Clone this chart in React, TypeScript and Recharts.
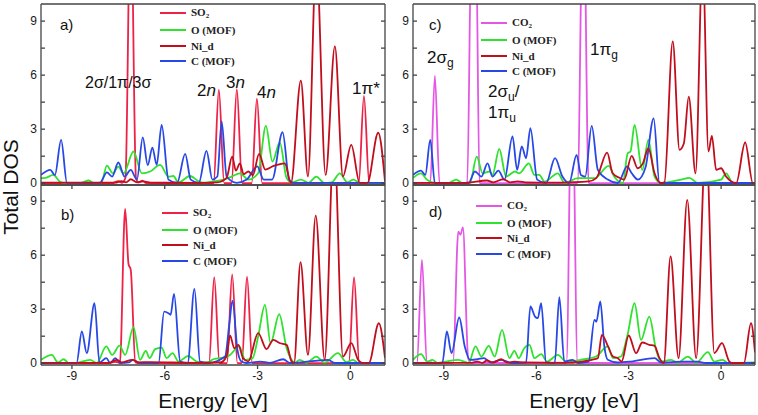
import { Legend, Line, LineChart, XAxis, YAxis } from 'recharts';

type Pt = [number, number];

// [energy eV, DOS], one list per curve and panel
// a) SO2 adsorbed
const so2A: Pt[] = [
  [-10, 0], [-7.7, 0], [-7.5, 0.12], [-7.38, 0.02], [-7.27, 0.3], [-7.1, 16], [-6.93, 0.3], [-6.85, 0.04],
  [-6.72, 0.14], [-6.6, 0], [-4.42, 0], [-4.25, 5.2], [-4.08, 0], [-3.84, 0], [-3.67, 5.22], [-3.5, 0],
  [-3.19, 0], [-3.02, 4.7], [-2.85, 0], [0.27, 0], [0.44, 4.85], [0.61, 0], [1.12, 0],
];
const oA: Pt[] = [
  [-10, 0.28], [-9.85, 0.3], [-9.6, 0.46], [-9.4, 0.1], [-9.27, 0.02], [-8.7, 0.02], [-8.46, 0.15], [-8.3, 0.02],
  [-8.05, 0.03], [-7.87, 0.98], [-7.68, 0.55], [-7.5, 0.92], [-7.33, 0.55], [-7.01, 1.76], [-6.74, 0.55],
  [-6.47, 0.65], [-6.15, 1.02], [-5.88, 0.37], [-5.72, 0.4], [-5.56, 0.04], [-5.18, 0.4], [-4.9, 0.1],
  [-4.75, 0.03], [-4.4, 0.1], [-4.1, 0.2], [-3.84, 0.37], [-3.57, 0.55], [-3.3, 0.2], [-2.98, 0.55],
  [-2.73, 3.18], [-2.52, 1.2], [-2.28, 2.26], [-2.06, 0.28], [-1.9, 0.04], [-1.6, 0.2], [-1.35, 0.02],
  [-1.1, 0.37], [-0.85, 0.02], [-0.6, 0.05], [-0.34, 0.55], [-0.1, 0.05], [0.1, 0.2], [0.3, 0.02], [1.12, 0.02],
];
const niA: Pt[] = [
  [-10, 0.03], [-7.6, 0.03], [-7.4, 0.12], [-7.25, 0.05], [-7.1, 0.22], [-6.9, 0.05], [-6.7, 0.1], [-6.4, 0.03],
  [-5.0, 0.02], [-4.3, 0.05], [-4.0, 0.3], [-3.82, 1.48], [-3.7, 0.7], [-3.57, 1.1], [-3.45, 0.5], [-3.3, 0.65],
  [-3.15, 0.45], [-2.95, 1.63], [-2.75, 0.75], [-2.5, 0.95], [-2.3, 1.05], [-2.12, 1.1], [-1.92, 0.02],
  [-1.6, 5.7], [-1.37, 0.37], [-1.1, 12.5], [-0.8, 0.46], [-0.5, 7.6], [-0.24, 0.37], [0.03, 2.13],
  [0.3, 0.02], [0.55, 0.02], [0.9, 2.8], [1.12, 0.1],
];
const cA: Pt[] = [
  [-10, 0.46], [-9.7, 0.74], [-9.55, 0.45], [-9.35, 2.41], [-9.16, 0.02], [-8.1, 0.02], [-7.87, 0.6],
  [-7.7, 0.37], [-7.5, 1.15], [-7.3, 0.37], [-7.1, 0.74], [-6.9, 0.2], [-6.71, 2.54], [-6.55, 1.0],
  [-6.4, 1.98], [-6.26, 1.02], [-6.1, 3.24], [-5.88, 0.2], [-5.6, 0.02], [-5.34, 1.63], [-5.16, 0.2],
  [-4.9, 0.02], [-4.65, 1.8], [-4.46, 0.2], [-4.3, 0.37], [-4.16, 3.43], [-4.0, 0.37], [-3.67, 0.02],
  [-3.35, 0.2], [-3.01, 0.93], [-2.8, 0.2], [-2.53, 0.2], [-2.19, 2.83], [-1.98, 0.2], [-1.85, 0.02], [1.12, 0.02],
];

// b) SO2, second site
const so2B: Pt[] = [
  [-10, 0], [-7.8, 0], [-7.6, 0.08], [-7.48, 0.02], [-7.45, 0], [-7.28, 8.57], [-7.17, 5.5], [-7.1, 5.2],
  [-6.95, 0.05], [-6.8, 0], [-4.57, 0], [-4.4, 4.78], [-4.23, 0], [-3.99, 0], [-3.82, 4.94], [-3.65, 0],
  [-3.51, 0], [-3.34, 4.81], [-3.17, 0], [-0.05, 0], [0.12, 4.78], [0.29, 0], [1.12, 0],
];
const oB: Pt[] = [
  [-10, 0.19], [-9.65, 0.46], [-9.45, 0.04], [-9.27, 0.22], [-9.1, 0], [-8.85, 0.02], [-8.41, 0.19],
  [-8.2, 0.01], [-7.89, 0.93], [-7.7, 0.46], [-7.46, 0.98], [-7.28, 0.46], [-7.01, 2.0], [-6.8, 0.19],
  [-6.61, 0.69], [-6.49, 0.28], [-6.31, 0.78], [-6.1, 0.87], [-5.94, 0.28], [-5.75, 0.56], [-5.55, 0.09],
  [-5.24, 0.41], [-4.97, 0.09], [-4.64, 0.04], [-4.43, 0.22], [-4.0, 0.35], [-3.89, 0.46], [-3.59, 0.93],
  [-3.4, 0.19], [-3.16, 0.28], [-2.98, 1.48], [-2.76, 3.24], [-2.58, 1.11], [-2.3, 2.72], [-2.06, 0.83],
  [-1.9, 0.19], [-1.8, 0.02], [-1.64, 0.19], [-1.42, 0.02], [-1.1, 0.37], [-0.83, 0.03], [-0.4, 0.56],
  [-0.13, 0.06], [0.09, 0.19], [0.25, 0.01], [1.12, 0.01],
];
const niB: Pt[] = [
  [-10, 0.02], [-7.8, 0.02], [-7.55, 0.19], [-7.4, 0.05], [-7.05, 0.19], [-6.85, 0.05], [-6.5, 0.06],
  [-5.0, 0.02], [-4.2, 0.04], [-4.0, 0.4], [-3.89, 1.54], [-3.75, 0.83], [-3.62, 1.02], [-3.47, 0.28],
  [-3.3, 0.1], [-2.98, 1.67], [-2.71, 0.78], [-2.49, 1.3], [-2.27, 1.11], [-2.06, 1.02], [-1.9, 0.1],
  [-1.82, 0.02], [-1.61, 5.61], [-1.37, 0.46], [-1.12, 8.2], [-0.83, 0.19], [-0.53, 12.5], [-0.24, 0.37],
  [0.03, 1.11], [0.25, 0.19], [0.38, 0.02], [0.6, 0.02], [0.92, 2.22], [1.12, 0.3],
];
const cB: Pt[] = [
  [-10, 0.01], [-8.85, 0.01], [-8.68, 1.76], [-8.52, 0.56], [-8.27, 3.33], [-8.11, 0.04], [-7.89, 0.28],
  [-7.76, 0.01], [-7.6, 0.28], [-7.44, 0.01], [-7.15, 0.05], [-7.03, 0.19], [-6.8, 0.01], [-6.2, 0.01],
  [-6.02, 2.87], [-5.88, 2.78], [-5.81, 2.69], [-5.7, 3.85], [-5.5, 0.09], [-5.26, 0.01], [-5.04, 4.13],
  [-4.86, 0.09], [-4.6, 0.01], [-4.05, 0.37], [-3.91, 2.22], [-3.81, 3.48], [-3.65, 0.74], [-3.52, 0.09],
  [-3.36, 0.01], [-2.92, 0.09], [-2.6, 0.02], [-2.17, 0.22], [-1.95, 0.01], [-0.72, 0.19], [-0.5, 0.01], [1.12, 0.01],
];

// c) CO2 adsorbed
const co2C: Pt[] = [
  [-10, 0], [-9.44, 0], [-9.29, 5.96], [-9.14, 0], [-8.24, 0], [-8.1, 14], [-7.96, 14], [-7.84, 0],
  [-4.66, 0], [-4.47, 17], [-4.3, 0], [1.1, 0],
];
const oC: Pt[] = [
  [-10, 0.3], [-9.74, 0.55], [-9.55, 0.2], [-9.3, 0.01], [-8.85, 0.01], [-8.6, 0.2], [-8.4, 0.01],
  [-8.15, 0.02], [-7.93, 1.48], [-7.74, 0.55], [-7.52, 0.65], [-7.42, 0.46], [-7.2, 1.9], [-6.98, 0.37],
  [-6.69, 0.65], [-6.55, 0.55], [-6.24, 1.1], [-6.06, 0.46], [-5.9, 0.46], [-5.73, 0.09], [-5.3, 0.55],
  [-5.08, 0.01], [-4.65, 0.28], [-4.1, 0.28], [-3.65, 0.96], [-3.47, 0.37], [-3.19, 0.01], [-3.03, 1.67],
  [-2.94, 1.76], [-2.81, 3.24], [-2.56, 0.74], [-2.36, 2.41], [-2.16, 0.37], [-1.95, 0.01], [-1.3, 0.2],
  [-1.03, 0.3], [-0.76, 0.01], [0, 0.2], [0.16, 0.55], [0.38, 0.01], [1.1, 0.01],
];
const niC: Pt[] = [
  [-10, 0.02], [-8.3, 0.02], [-7.6, 0.15], [-7.4, 0.05], [-7.07, 0.22], [-6.85, 0.05], [-6.6, 0.1],
  [-6.3, 0.04], [-5.5, 0.03], [-4.9, 0.05], [-4.3, 0.1], [-4.05, 0.28], [-3.7, 1.7], [-3.52, 0.55],
  [-3.3, 0.3], [-3.15, 0.2], [-2.9, 1.52], [-2.71, 0.83], [-2.54, 1.1], [-2.36, 1.94], [-2.16, 0.55],
  [-1.95, 0.01], [-1.84, 0.05], [-1.57, 7.87], [-1.35, 1.85], [-1.21, 2.2], [-1.05, 4.81], [-0.83, 0.55],
  [-0.6, 12.5], [-0.41, 1.76], [-0.3, 2.63], [-0.16, 0.74], [0, 0.83], [0.16, 0.37], [0.49, 0.01],
  [0.78, 2.26], [1.03, 0.01], [1.1, 0.01],
];
const cC: Pt[] = [
  [-10, 0.46], [-9.74, 0.7], [-9.6, 0.46], [-9.44, 2.41], [-9.29, 0.01], [-8.2, 0.01], [-7.99, 0.65],
  [-7.78, 0.37], [-7.58, 1.1], [-7.42, 0.37], [-7.23, 0.7], [-7.03, 0.2], [-6.77, 2.6], [-6.62, 0.74],
  [-6.47, 2.04], [-6.33, 1.39], [-6.19, 3.06], [-5.97, 0.2], [-5.68, 0.01], [-5.39, 1.39], [-5.15, 0.37],
  [-4.93, 0.01], [-4.69, 1.57], [-4.55, 0.46], [-4.41, 0.37], [-4.2, 3.18], [-4.0, 0.74], [-3.68, 0.2],
  [-3.35, 0.01], [-3.05, 0.93], [-2.9, 0.55], [-2.7, 0.2], [-2.45, 0.9], [-2.19, 3.6], [-2.0, 0.01], [1.1, 0.01],
];

// d) CO2, second site
const co2D: Pt[] = [
  [-10, 0], [-9.87, 0.02], [-9.71, 5.74], [-9.55, 0.09], [-9.4, 0.04], [-9.2, 0], [-8.7, 0.02],
  [-8.53, 7.31], [-8.46, 7.13], [-8.38, 7.54], [-8.21, 0.28], [-8.1, 0.01], [-5.02, 0.01], [-4.84, 17],
  [-4.66, 0.01], [1.1, 0],
];
const oD: Pt[] = [
  [-10, 0.19], [-9.74, 0.5], [-9.54, 0.09], [-9.37, 0.19], [-9.2, 0.02], [-8.94, 0.09], [-8.53, 0.19],
  [-8.2, 0.02], [-7.97, 0.93], [-7.78, 0.37], [-7.54, 0.96], [-7.35, 0.37], [-7.11, 1.85], [-6.87, 0.28],
  [-6.71, 0.69], [-6.57, 0.28], [-6.39, 0.83], [-6.22, 1.02], [-6.06, 0.28], [-5.84, 0.5], [-5.65, 0.09],
  [-5.3, 0.46], [-5.03, 0.09], [-4.55, 0.19], [-4.06, 0.37], [-3.68, 0.93], [-3.51, 0.28], [-3.25, 0.37],
  [-3.03, 1.63], [-2.81, 3.33], [-2.6, 1.3], [-2.33, 2.59], [-2.11, 0.74], [-1.95, 0.09], [-1.62, 0.19],
  [-1.41, 0.02], [-1.08, 0.37], [-0.81, 0.02], [-0.43, 0.61], [-0.22, 0.09], [0.05, 0.19], [0.22, 0], [1.1, 0.04],
];
const niD: Pt[] = [
  [-10, 0.02], [-8.1, 0.02], [-7.9, 0.09], [-7.75, 0.02], [-7.6, 0.15], [-7.4, 0.04], [-7.14, 0.22],
  [-6.95, 0.04], [-6.7, 0.09], [-6.4, 0.04], [-5.0, 0.02], [-4.2, 0.19], [-4.0, 0.28], [-3.87, 1.57],
  [-3.67, 0.93], [-3.51, 0.37], [-3.35, 0.28], [-3.23, 0.09], [-3.0, 1.54], [-2.76, 0.56], [-2.56, 1.15],
  [-2.33, 1.02], [-2.16, 0.96], [-2.0, 0.28], [-1.86, 0.01], [-1.64, 5.93], [-1.38, 0.28], [-1.1, 9.07],
  [-0.81, 0.28], [-0.49, 12.5], [-0.22, 0.56], [0.03, 1.11], [0.27, 0.09], [0.38, 0.01], [0.74, 0.01],
  [0.97, 2.22], [1.1, 0.6],
];
const cD: Pt[] = [
  [-10, 0.01], [-9.05, 0.01], [-8.9, 1.76], [-8.75, 0.56], [-8.5, 2.54], [-8.32, 0.93], [-8.15, 0.19],
  [-7.9, 0.22], [-7.7, 0.28], [-7.47, 0.04], [-7.12, 0.19], [-6.82, 0.01], [-6.33, 0.04], [-6.19, 3.15],
  [-6.04, 2.59], [-5.95, 2.5], [-5.84, 3.33], [-5.68, 0.04], [-5.4, 0.01], [-5.25, 3.67], [-5.09, 0.09],
  [-4.82, 0.19], [-4.65, 0.01], [-4.3, 0.09], [-4.11, 2.41], [-4.05, 2.3], [-3.92, 3.43], [-3.79, 0.93],
  [-3.68, 0.19], [-3.35, 0.04], [-2.92, 0.09], [-2.16, 0.28], [-1.95, 0.04], [-1.24, 0.09], [-0.76, 0.09],
  [-0.5, 0.01], [1.1, 0.01],
];

const xTicks = [-9, -6, -3, 0];
const yTicks = [0, 1.5, 3, 4.5, 6, 7.5, 9];
const legendOrder = ['SO2', 'CO2', 'O (MOF)', 'Ni_d', 'C (MOF)'];

const COL = {
  so2: '#ee2147',
  co2: '#e457e4',
  o: '#2ee22e',
  ni: '#c10d1c',
  c: '#2748e6',
};

const SANS = '"Liberation Sans", Arial, sans-serif';
const SERIF = '"Liberation Serif", "Times New Roman", serif';
const frame = { stroke: '#444', strokeWidth: 1.3 };
const tickText = { fontSize: 12, fill: '#1a1a1a', fontFamily: SANS };

type Series = { name: string; color: string; pts: Pt[] };

const rows = (pts: Pt[]) => pts.map(([e, v]) => ({ e, v }));

function formula(name: string) {
  const m = name.match(/^([A-Z]+)(\d)$/);
  if (!m) return name;
  return (
    <>
      {m[1]}
      <span style={{ fontSize: 7, verticalAlign: -2 }}>{m[2]}</span>
    </>
  );
}

function LegendBox({ payload }: any) {
  const items = [...(payload ?? [])].sort(
    (p: any, q: any) => legendOrder.indexOf(p.value) - legendOrder.indexOf(q.value),
  );
  return (
    <div style={{ fontFamily: SERIF, fontWeight: 'bold', fontSize: 11, color: '#222' }}>
      {items.map((it: any, i: number) => (
        <div
          key={it.value}
          style={{ display: 'flex', alignItems: 'center', height: i === 0 ? 19 : 15.5, whiteSpace: 'nowrap' }}
        >
          <span style={{ display: 'inline-block', width: 26, height: 2, background: it.color, marginRight: 5 }} />
          <span>{formula(it.value)}</span>
        </div>
      ))}
    </div>
  );
}

function DosPanel({
  series,
  left,
  top,
  width,
  height,
  margin,
  xDomain,
  yDomain,
  bottomAxis,
  legendAt,
}: {
  series: Series[];
  left: number;
  top: number;
  width: number;
  height: number;
  margin: { top: number; right: number };
  xDomain: [number, number];
  yDomain: [number, number];
  bottomAxis: boolean;
  legendAt: [number, number];
}) {
  return (
    <div style={{ position: 'absolute', left, top }}>
      <LineChart width={width} height={height} margin={{ top: margin.top, right: margin.right, bottom: 0, left: 0 }}>
        <XAxis
          xAxisId="x"
          dataKey="e"
          type="number"
          domain={xDomain}
          allowDataOverflow
          ticks={xTicks}
          interval={0}
          height={bottomAxis ? 50 : 5}
          tickSize={4}
          tickMargin={2}
          axisLine={frame}
          tickLine={frame}
          tick={tickText}
          tickFormatter={bottomAxis ? (v: number) => String(v) : () => ''}
          label={
            bottomAxis
              ? { value: 'Energy [eV]', position: 'insideBottom', offset: 7, fontSize: 21, fill: '#111', fontFamily: SANS }
              : undefined
          }
        />
        <XAxis
          xAxisId="xt"
          orientation="top"
          mirror
          type="number"
          domain={xDomain}
          allowDataOverflow
          ticks={xTicks}
          interval={0}
          tickSize={4}
          axisLine={frame}
          tickLine={frame}
          tickFormatter={() => ''}
        />
        <YAxis
          yAxisId="y"
          type="number"
          domain={yDomain}
          allowDataOverflow
          ticks={yTicks}
          interval={0}
          width={41}
          tickSize={0}
          tickMargin={4}
          tickLine={false}
          axisLine={frame}
          tick={tickText}
          tickFormatter={(v: number) => (v % 3 === 0 ? String(v) : '')}
        />
        <YAxis
          yAxisId="yl"
          mirror
          type="number"
          domain={yDomain}
          allowDataOverflow
          ticks={yTicks}
          interval={0}
          tickSize={4}
          axisLine={false}
          tickLine={frame}
          tickFormatter={() => ''}
        />
        <YAxis
          yAxisId="yr"
          orientation="right"
          mirror
          type="number"
          domain={yDomain}
          allowDataOverflow
          ticks={yTicks}
          interval={0}
          tickSize={4}
          axisLine={frame}
          tickLine={frame}
          tickFormatter={() => ''}
        />
        <Legend
          layout="vertical"
          align="center"
          verticalAlign="middle"
          wrapperStyle={{ left: legendAt[0], top: legendAt[1], width: 'auto' }}
          content={LegendBox}
        />
        {series.map((s) => (
          <Line
            key={s.name}
            xAxisId="x"
            yAxisId="y"
            data={rows(s.pts)}
            dataKey="v"
            name={s.name}
            type="monotone"
            stroke={s.color}
            strokeWidth={1.8}
            dot={false}
            activeDot={false}
            isAnimationActive={false}
          />
        ))}
      </LineChart>
    </div>
  );
}

const sub = { fontSize: 12 };

export default function App() {
  const panelA: Series[] = [
    { name: 'SO2', color: COL.so2, pts: so2A },
    { name: 'O (MOF)', color: COL.o, pts: oA },
    { name: 'C (MOF)', color: COL.c, pts: cA },
    { name: 'Ni_d', color: COL.ni, pts: niA },
  ];
  const panelB: Series[] = [
    { name: 'SO2', color: COL.so2, pts: so2B },
    { name: 'O (MOF)', color: COL.o, pts: oB },
    { name: 'C (MOF)', color: COL.c, pts: cB },
    { name: 'Ni_d', color: COL.ni, pts: niB },
  ];
  const panelC: Series[] = [
    { name: 'CO2', color: COL.co2, pts: co2C },
    { name: 'O (MOF)', color: COL.o, pts: oC },
    { name: 'C (MOF)', color: COL.c, pts: cC },
    { name: 'Ni_d', color: COL.ni, pts: niC },
  ];
  const panelD: Series[] = [
    { name: 'CO2', color: COL.co2, pts: co2D },
    { name: 'O (MOF)', color: COL.o, pts: oD },
    { name: 'C (MOF)', color: COL.c, pts: cD },
    { name: 'Ni_d', color: COL.ni, pts: niD },
  ];

  return (
    <div style={{ position: 'relative', width: 758, height: 415, background: '#fff', fontFamily: SANS }}>
      <style>{'body{margin:0}'}</style>
      <DosPanel
        series={panelA}
        left={0}
        top={0}
        width={390}
        height={190}
        margin={{ top: 4, right: 5 }}
        xDomain={[-10, 1.12]}
        yDomain={[-0.1, 9.95]}
        bottomAxis={false}
        legendAt={[160, 3.5]}
      />
      <DosPanel
        series={panelC}
        left={372}
        top={0}
        width={386}
        height={190}
        margin={{ top: 4, right: 3 }}
        xDomain={[-10, 1.1]}
        yDomain={[-0.1, 9.95]}
        bottomAxis={false}
        legendAt={[109, 13.5]}
      />
      <DosPanel
        series={panelB}
        left={0}
        top={180}
        width={390}
        height={235}
        margin={{ top: 5, right: 5 }}
        xDomain={[-10, 1.12]}
        yDomain={[-0.1, 9.9]}
        bottomAxis
        legendAt={[162, 23]}
      />
      <DosPanel
        series={panelD}
        left={372}
        top={180}
        width={386}
        height={235}
        margin={{ top: 5, right: 3 }}
        xDomain={[-10, 1.1]}
        yDomain={[-0.1, 9.9]}
        bottomAxis
        legendAt={[104, 16]}
      />
      <svg
        width={758}
        height={415}
        style={{ position: 'absolute', left: 0, top: 0, pointerEvents: 'none' }}
        fontFamily={SANS}
        fill="#111"
      >
        <text transform="translate(17.5,187) rotate(-90)" textAnchor="middle" fontSize={21}>
          Total DOS
        </text>
        <text x={60} y={30} fontSize={15}>a)</text>
        <text x={61} y={220} fontSize={15}>b)</text>
        <text x={429} y={30} fontSize={15}>c)</text>
        <text x={429} y={217} fontSize={15}>d)</text>

        <text x={85} y={88} fontSize={16}>2σ/1π/3σ</text>
        <text x={197} y={96} fontSize={17}>2<tspan fontStyle="italic">n</tspan></text>
        <text x={226} y={88} fontSize={17}>3<tspan fontStyle="italic">n</tspan></text>
        <text x={257} y={98} fontSize={17}>4<tspan fontStyle="italic">n</tspan></text>
        <text x={352} y={94} fontSize={17}>1π*</text>

        <text x={427} y={63} fontSize={17}>
          2σ<tspan {...sub} dy={4}>g</tspan>
        </text>
        <text x={488} y={97} fontSize={17}>
          2σ<tspan {...sub} dy={4}>u</tspan>
          <tspan dy={-4}>/</tspan>
        </text>
        <text x={488} y={118} fontSize={17}>
          1π<tspan {...sub} dy={4}>u</tspan>
        </text>
        <text x={590} y={55} fontSize={17}>
          1π<tspan {...sub} dy={4}>g</tspan>
        </text>
      </svg>
    </div>
  );
}
